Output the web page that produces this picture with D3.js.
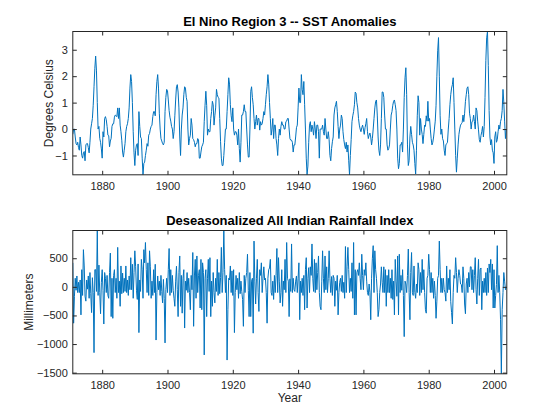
<!DOCTYPE html>
<html><head><meta charset="utf-8">
<script src="https://cdn.jsdelivr.net/npm/d3@7"></script>
<style>
body{margin:0;background:#fff}
svg{display:block}
text{font-family:"Liberation Sans",Arial,Helvetica,sans-serif}
</style>
</head><body><svg id="c" width="560" height="420"></svg>
<script>
const startYear = 1871;
const samplesPerYear = 4;
const xLimits = [1871, 2003.917];
const xTicks = [1880, 1900, 1920, 1940, 1960, 1980, 2000];
const ninoTicks = [-1, 0, 1, 2, 3];
const rainTicks = [-1500, -1000, -500, 0, 500];

// Nino3 SST anomaly (deg C), quarterly readings, one row per year 1871..2003
const ninoSST = [
-0.2,0.0,0.0,-0.3, -0.55,-0.6,-0.5,-0.7, -0.8,-0.3,-0.6,-1.0, -1.1,-0.9,-0.85,-1.2,
-0.6,-0.55,-0.55,-0.7, -0.9,-0.5,0.0,0.2, 0.4,0.9,1.6,2.3, 2.76,2.2,1.0,0.0,
0.1,-0.35,-0.5,-0.75, -1.1,-0.1,-0.3,0.4, 0.47,0.35,0.1,-0.23, -0.25,-0.67,-0.45,-0.35,
0.1,0.2,0.2,0.45, 0.53,0.5,0.47,0.8, 0.4,0.8,0.15,-0.1, -0.42,-0.87,-1.06,-0.8,
-0.55,-0.1,0.1,0.2, 0.4,0.8,1.55,2.06, 1.8,1.0,-0.1,-0.9, -1.38,-0.8,-0.6,-0.55,
-1.0,0.66,0.1,-0.3, -0.36,-1.1,-1.73,-1.3, -1.25,-1.0,-0.8,-0.55, -0.65,-0.23,-0.17,0.0,
0.1,0.15,0.47,0.66, 0.66,0.5,1.3,1.8, 2.06,1.55,0.6,0.0, -0.36,-0.45,-0.55,-0.6,
-0.5,0.66,1.2,1.5, 1.45,1.1,0.7,0.45, 0.3,0.1,0.0,-0.36, -0.1,0.5,1.1,1.6,
1.68,1.4,0.8,-0.3, -1.0,0.0,0.53,0.8, 1.3,1.6,1.55,1.2, 1.05,0.0,-0.6,-0.36,
-0.23,0.4,0.15,-0.36, -0.4,-0.5,-0.67,-0.55, -0.55,-0.36,-0.4,-1.1, -1.1,-0.87,-0.67,-0.6,
-0.5,0.28,0.9,1.43, 0.9,-0.23,0.0,-0.1, -0.1,0.4,0.66,1.05, 0.92,0.15,0.5,0.8,
1.5,1.3,1.2,1.17, 0.4,-0.48,-1.1,-1.38, -1.38,-1.0,-0.5,0.0, 0.0,0.66,1.3,1.94,
1.7,0.92,0.5,0.28, 0.8,0.0,-0.23,-0.1, -0.1,-0.23,-0.6,0.0, -0.74,-1.25,-0.5,0.53,
0.53,0.66,0.92,0.66, 0.66,0.0,-0.6,-1.06, -1.06,0.0,1.43,1.6, 1.2,0.92,0.4,0.0,
0.28,0.53,0.15,0.4, 0.4,-0.04,0.28,0.15, 0.2,0.4,0.66,0.53, 0.92,1.3,1.6,2.06,
1.7,1.0,0.4,-0.23, 0.0,0.4,-0.36,0.15, 0.15,-0.36,-0.6,-1.0, -0.36,0.0,-0.23,0.1,
0.28,0.15,0.15,0.0, 0.0,0.28,0.3,0.4, 0.4,0.0,-0.36,-0.42, -0.42,-0.5,-0.87,-0.6,
-0.6,-0.3,0.05,0.15, 0.8,1.55,1.0,1.0, 2.06,1.5,1.3,1.8, 0.92,0.0,-1.1,-1.73,
-1.4,-0.5,0.15,0.28, -0.1,0.15,0.0,-0.23, 0.28,0.0,-0.36,0.15, 0.15,-0.1,-1.1,0.0,
0.0,0.0,0.15,-0.1, -0.23,0.4,0.0,-0.36, -0.36,-0.1,-0.4,-1.0, -1.2,-0.74,-0.48,-0.3,
0.53,0.8,0.92,1.05, 0.66,0.1,-0.36,0.0, 0.15,0.53,0.4,-0.1, -0.4,-0.6,-0.74,-0.5,
-0.87,-0.6,-1.2,-1.73, -1.0,-0.4,0.28,0.5, 0.66,0.92,1.4,1.35, 1.0,0.8,0.4,0.15,
0.0,-0.1,0.05,0.15, 0.0,-0.2,0.05,0.2, 0.4,-0.1,-0.36,-0.23, -0.15,-0.3,-0.6,-0.36,
0.0,0.4,0.8,1.05, 1.1,0.53,-0.3,-0.8, -1.0,-0.6,0.4,1.4, 1.4,1.2,0.53,0.0,
0.0,-0.6,-0.8,-0.74, -0.6,0.0,0.53,0.66, 0.9,1.05,1.1,0.92, 0.7,0.0,-1.1,-1.5,
-1.3,-0.6,-0.6,-0.5, -0.87,0.0,1.2,1.94, 2.32,1.3,-0.6,-1.38, -1.2,-0.3,0.1,-0.2,
-0.5,-0.6,-0.8,-1.3, -1.7,-0.8,0.5,1.26, 1.0,-0.23,0.4,0.0, -0.2,-0.55,-0.2,0.15,
0.1,0.5,0.3,1.05, 0.3,0.4,0.0,-0.36, -0.6,-0.5,-0.3,0.0, 0.3,0.9,2.0,2.96,
3.46,2.0,0.5,-0.2, 0.0,-0.36,-0.45,-0.8, -1.0,-0.6,-0.55,-0.5, 0.0,0.4,0.92,1.3,
1.55,1.68,1.94,1.0, 0.0,-1.0,-1.63,-1.1, -0.6,-0.2,0.0,0.15, 0.2,0.25,0.53,0.28,
0.6,1.05,1.3,1.55, 1.6,1.3,0.6,0.4, 0.0,0.28,0.3,0.53, 0.28,0.0,0.8,0.7,
0.3,-0.03,-0.4,-0.5, -0.25,-0.1,0.1,-0.3, 0.1,1.2,2.6,3.45, 3.69,2.4,0.7,-0.3,
-0.6,-0.4,-0.8,-0.9, -1.3,-0.3,-0.1,-0.5, -0.4,-0.1,0.15,0.0, 0.28,0.4,0.7,1.5,
1.0,0.3,-0.36,0.0
];

// Deseasonalized All Indian Rainfall Index (mm), quarterly readings 1871..2003
const rainfall = [
420,-635,-165,150, -60,190,-100,80, -100,120,-490,300, -150,650,365,-165,
-250,120,-40,190, -200,250,-120,-450, 160,-100,-1150,300, 300,-80,985,-150,
380,-100,-470,80, 300,-60,-650,250, 150,-100,200,-150, -200,250,590,-520,
150,-550,200,300, -100,150,-200,690, -100,100,-340,365, -120,240,-100,150,
-80,365,-100,120, -150,190,-50,510, -50,395,-200,250, 630,350,-60,-220,
400,-800,120,-80, 480,300,-200,650, 420,775,300,-100, 420,-150,630,350,
-200,100,-150,300, -100,395,-930,-100, 190,-50,100,-150, 200,-80,-280,130,
-200,-980,-50,150, -100,300,670,-150, 300,-100,200,-60, -200,-340,100,360,
-50,-520,250,540, -340,200,-460,150, 300,-720,100,-60, 250,-100,150,-100,
-400,200,-50,600, -690,190,480,-200, 540,-100,200,300, -370,480,-400,420,
250,-1190,150,300, -520,150,480,-80, 510,-520,100,-340, 250,-100,-280,150,
-80,480,-150,250, -120,160,690,-100, 250,985,300,-100, 200,-1280,-400,150,
120,365,-100,280, -150,300,-800,-100, 200,-50,150,-200, 250,-120,100,-80,
-220,-690,200,-100, 150,250,570,-60, -520,250,-520,100, 150,-810,800,100,
-300,150,480,-100, -430,300,200,420, -100,150,350,120, 150,-100,-635,150,
300,330,480,-100, -150,100,-220,200, -100,200,670,-100, 510,100,-280,-100,
300,-340,100,-50, 480,-100,775,150, 100,-520,140,-80, 750,-100,150,-50,
-80,100,190,-100, 150,420,-575,100, -100,150,-150,200, -400,300,510,-370,
150,335,-100,350, 200,750,150,-80, 480,-100,420,-50, 250,540,-100,-340,
-400,100,630,150, -100,540,-50,350, -100,150,630,150, -100,180,-150,200,
150,-340,100,-60, 200,-490,-100,80, 150,-80,200,-100, 80,-200,705,-100,
350,690,300,-100, 150,-80,420,-200, 775,-490,300,-490, 250,300,200,420,
150,-50,570,200, -50,300,200,420, 100,-100,-150,50, -100,-575,150,500,
720,-100,630,300, 150,-100,-520,-400, -100,50,350,80, -100,350,-100,300,
-340,200,-100,300, -100,150,-200,300, -220,100,-490,480, 100,-165,540,-490,
570,-100,200,-60, 300,-150,-870,100, 50,-100,200,660, -100,-575,250,600,
-100,-150,365,-100, -200,50,-100,420, 300,-150,250,-100, 480,-50,300,-100,
-400,-460,150,200, 570,300,-100,250, -100,150,-200,100, -150,-550,-250,150,
200,800,300,-100, 150,-100,150,-50, -100,-250,365,-100, 150,-50,300,-260,
-450,-650,-100,200, 150,510,250,-100, 150,300,200,50, 40,-100,350,150,
-300,-470,50,150, -100,250,0,350, 350,-50,300,-100, 200,510,-50,-300,
150,480,-150,300, 330,-400,100,-100, 150,-100,250,-150, 330,-100,400,250,
480,-50,400,-370, 300,-370,-150,40, 720,-100,200,-100, -575,-1520,-400,-100,
250,100,-50,0
];

const W = 560, H = 420;
const left = 72.8, right = 506.8;
const svg = d3.select("#c");
svg.append("rect").attr("width", W).attr("height", H).attr("fill", "#fff");

const axisColor = "#262626";
const lineColor = "#0072BD";
const font = '"Liberation Sans",Arial,Helvetica,sans-serif';

const x = d3.scaleLinear().domain(xLimits).range([left, right]);

function panel(opts) {
  const y = d3.scaleLinear().domain(d3.extent(opts.data)).range([opts.bottom, opts.top]);
  const g = svg.append("g");

  const line = d3.line()
    .x((d, i) => x(startYear + i / samplesPerYear))
    .y(d => y(d));
  const clipId = "clip" + opts.id;
  svg.append("clipPath").attr("id", clipId).append("rect")
    .attr("x", left).attr("y", opts.top).attr("width", right - left).attr("height", opts.bottom - opts.top);
  g.append("path").datum(opts.data)
    .attr("clip-path", `url(#${clipId})`)
    .attr("fill", "none").attr("stroke", lineColor).attr("stroke-width", 1)
    .attr("stroke-linejoin", "round")
    .attr("d", line);

  const styleAxis = sel => {
    sel.select(".domain").remove();
    sel.selectAll(".tick line").attr("stroke", axisColor).attr("stroke-width", 1);
    sel.selectAll(".tick text").attr("fill", axisColor).attr("font-size", 11).attr("font-family", font);
  };
  g.append("g").attr("transform", `translate(${left},0)`)
    .call(d3.axisLeft(y).tickValues(opts.yTicks).tickSize(-4).tickPadding(5).tickFormat(d3.format("d")))
    .call(styleAxis);
  g.append("g").attr("transform", `translate(${right},0)`)
    .call(d3.axisRight(y).tickValues(opts.yTicks).tickSize(-4).tickFormat(""))
    .call(styleAxis);
  g.append("g").attr("transform", `translate(0,${opts.bottom})`)
    .call(d3.axisBottom(x).tickValues(xTicks).tickSize(-4).tickPadding(7).tickFormat(d3.format("d")))
    .call(styleAxis);
  g.append("g").attr("transform", `translate(0,${opts.top})`)
    .call(d3.axisTop(x).tickValues(xTicks).tickSize(-4).tickFormat(""))
    .call(styleAxis);

  g.append("rect").attr("x", left).attr("y", opts.top)
    .attr("width", right - left).attr("height", opts.bottom - opts.top)
    .attr("fill", "none").attr("stroke", axisColor).attr("stroke-width", 1);

  g.append("text").attr("x", (left + right) / 2).attr("y", opts.top - 6)
    .attr("text-anchor", "middle").attr("font-size", 13).attr("font-weight", "bold")
    .attr("fill", "#000").text(opts.title);

  g.append("text")
    .attr("transform", `translate(${opts.ylabelX},${(opts.top + opts.bottom) / 2}) rotate(-90)`)
    .attr("text-anchor", "middle").attr("font-size", 12).attr("fill", axisColor)
    .text(opts.ylabel);

  if (opts.xlabel) {
    g.append("text").attr("x", (left + right) / 2).attr("y", opts.bottom + 28)
      .attr("text-anchor", "middle").attr("font-size", 12).attr("fill", axisColor)
      .text(opts.xlabel);
  }
}

panel({id: 1, data: ninoSST, top: 31.5, bottom: 174.8, yTicks: ninoTicks,
  title: "El Nino Region 3 -- SST Anomalies", ylabel: "Degrees Celsius", ylabelX: 52.5});
panel({id: 2, data: rainfall, top: 230.5, bottom: 373.8, yTicks: rainTicks,
  title: "Deseasonalized All Indian Rainfall Index", ylabel: "Millimeters", ylabelX: 33, xlabel: "Year"});
</script>
</body></html>
